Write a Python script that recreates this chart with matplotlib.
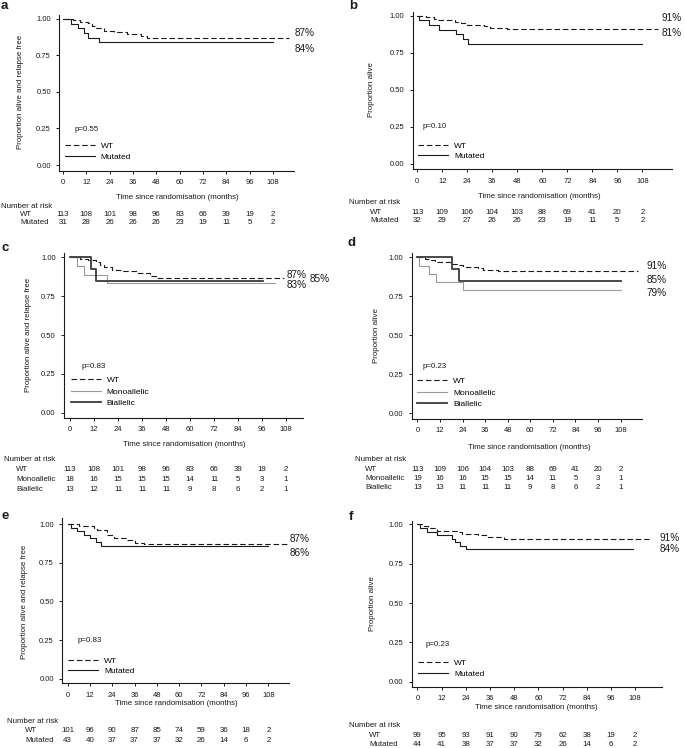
import matplotlib
matplotlib.use("Agg")
import matplotlib.pyplot as plt
from matplotlib.transforms import Affine2D, blended_transform_factory

plt.rcParams['font.family'] = ['Liberation Sans', 'DejaVu Sans']

W, H = 685, 748

months = [0, 12, 24, 36, 48, 60, 72, 84, 96, 108]
yticks = [0, 0.25, 0.5, 0.75, 1.0]
xlab = "Time since randomisation (months)"
ylab_rfs = "Proportion alive and relapse free"
ylab_os = "Proportion alive"

# --- KM curves (time in months, survival) ---
# a: RFS, WT vs mutated
a_wt_t = [0, 5, 9, 13, 15, 17, 21, 26, 33, 40, 43, 116]
a_wt_s = [1.0, 0.99, 0.98, 0.97, 0.95, 0.94, 0.92, 0.91, 0.90, 0.88, 0.87, 0.87]
a_mut_t = [0, 4, 7.5, 11, 13, 18.5, 108]
a_mut_s = [1.0, 0.968, 0.935, 0.903, 0.871, 0.839, 0.839]
# b: OS, WT vs mutated
b_wt_t = [0, 4, 8, 9.5, 18, 21, 24, 32, 35, 43, 115.5]
b_wt_s = [1.0, 0.99, 0.98, 0.97, 0.96, 0.95, 0.94, 0.93, 0.92, 0.91, 0.91]
b_mut_t = [0, 1, 5.5, 10.5, 18.5, 22, 24.5, 108]
b_mut_s = [1.0, 0.969, 0.938, 0.906, 0.875, 0.844, 0.8125, 0.8125]
# c: RFS, WT / monoallelic / biallelic
c_wt_t = [0, 5, 9, 13, 15, 17, 21, 26, 33, 40, 43, 107]
c_wt_s = [1.0, 0.99, 0.98, 0.97, 0.95, 0.94, 0.92, 0.91, 0.90, 0.88, 0.87, 0.87]
c_mono_t = [0, 3.3, 7.2, 18.5, 102.5]
c_mono_s = [1.0, 0.944, 0.889, 0.833, 0.833]
c_bi_t = [0, 10.3, 13, 96.7]
c_bi_s = [1.0, 0.923, 0.846, 0.846]
# d: OS, WT / monoallelic / biallelic
d_wt_t = [0, 4, 7, 9.5, 18, 21, 24, 32, 35, 43, 117]
d_wt_s = [1.0, 0.99, 0.98, 0.97, 0.96, 0.95, 0.94, 0.93, 0.92, 0.91, 0.91]
d_mono_t = [0, 0.7, 6, 10, 24.4, 108]
d_mono_s = [1.0, 0.947, 0.895, 0.842, 0.789, 0.789]
d_bi_t = [0, 18.5, 22, 108]
d_bi_s = [1.0, 0.923, 0.846, 0.846]
# e: RFS, WT vs mutated
e_wt_t = [0, 6, 14, 16, 21, 25, 32, 36, 41, 118]
e_wt_s = [1.0, 0.99, 0.97, 0.96, 0.93, 0.91, 0.895, 0.88, 0.87, 0.87]
e_mut_t = [0, 2, 5, 9, 12, 15, 18, 108]
e_mut_s = [1.0, 0.977, 0.953, 0.930, 0.907, 0.884, 0.860, 0.860]
# f: OS, WT vs mutated
f_wt_t = [0, 3, 5.5, 9.5, 20, 22, 30, 34, 43, 115]
f_wt_s = [1.0, 0.99, 0.98, 0.96, 0.95, 0.94, 0.93, 0.92, 0.91, 0.91]
f_mut_t = [0, 1.3, 5, 9.5, 17, 18.7, 21.2, 24, 107]
f_mut_s = [1.0, 0.977, 0.955, 0.932, 0.909, 0.886, 0.864, 0.841, 0.841]

# --- numbers at risk ---
a_risk_wt = [113, 108, 101, 98, 96, 83, 66, 39, 19, 2]
a_risk_mut = [31, 28, 26, 26, 26, 23, 19, 11, 5, 2]
b_risk_wt = [113, 109, 106, 104, 103, 88, 69, 41, 20, 2]
b_risk_mut = [32, 29, 27, 26, 26, 23, 19, 11, 5, 2]
c_risk_wt = [113, 108, 101, 98, 96, 83, 66, 39, 19, 2]
c_risk_mono = [18, 16, 15, 15, 15, 14, 11, 5, 3, 1]
c_risk_bi = [13, 12, 11, 11, 11, 9, 8, 6, 2, 1]
d_risk_wt = [113, 109, 106, 104, 103, 88, 69, 41, 20, 2]
d_risk_mono = [19, 16, 16, 15, 15, 14, 11, 5, 3, 1]
d_risk_bi = [13, 13, 11, 11, 11, 9, 8, 6, 2, 1]
e_risk_wt = [101, 96, 90, 87, 85, 74, 59, 36, 18, 2]
e_risk_mut = [43, 40, 37, 37, 37, 32, 26, 14, 6, 2]
f_risk_wt = [99, 95, 93, 91, 90, 79, 62, 38, 19, 2]
f_risk_mut = [44, 41, 38, 37, 37, 32, 26, 14, 6, 2]

pvals = ["p=0.55", "p=0.10", "p=0.83", "p=0.23", "p=0.83", "p=0.23"]

fig = plt.figure(figsize=(W / 100, H / 100), dpi=100)
# pixel coords, origin top-left
px = Affine2D().scale(1.0 / W, -1.0 / H).translate(0, 1) + fig.transFigure

BLACK = "#1a1a1a"
WT_STYLE = dict(color=BLACK, lw=0.8, ls=(0, (5, 2.5)))
MUT_STYLE = dict(color=BLACK, lw=0.8)
MONO_STYLE = dict(color="#9a9a9a", lw=0.8)
BI_STYLE = dict(color="#3a3a3a", lw=1.3)


def make_axes(rect, xlim, ylim):
    l, t, r, b = rect
    ax = fig.add_axes([l / W, 1 - b / H, (r - l) / W, (b - t) / H])
    ax.set_xlim(*xlim)
    ax.set_ylim(*ylim)
    for s in ["top", "right"]:
        ax.spines[s].set_visible(False)
    for s in ["left", "bottom"]:
        ax.spines[s].set_linewidth(0.8)
        ax.spines[s].set_color(BLACK)
    ax.set_xticks(months)
    ax.set_yticks(yticks)
    ax.set_yticklabels(["%.2f" % v for v in yticks])
    ax.tick_params(labelsize=5.5, length=2.5, width=0.7, pad=3.5, colors=BLACK)
    return ax


def risk_table(ax, title_xy, rows, label_x):
    fig.text(title_xy[0], title_xy[1], "Number at risk", transform=px,
             fontsize=5.7, ha="left", va="center", color=BLACK)
    tr = blended_transform_factory(ax.transData, px)
    for name, vals, y in rows:
        fig.text(label_x, y, name, transform=px, fontsize=5.7,
                 ha="left", va="center", color=BLACK)
        for m, v in zip(months, vals):
            ax.text(m, y, str(v), transform=tr, fontsize=5.7, ha="center",
                    va="center", color=BLACK, clip_on=False)


def decorate(ax, letter, letter_xy, ylab, ylab_x, xlab_xy, ptxt, p_xy,
             leg_xy, leg_sp, pcts):
    fig.text(letter_xy[0], letter_xy[1], letter, transform=px, fontsize=9.5,
             fontweight="bold", ha="left", va="center", color=BLACK)
    ytr = blended_transform_factory(px, ax.transData)
    ax.text(ylab_x, 0.5, ylab, transform=ytr, rotation=90, ha="center",
            va="center", fontsize=5.7, color=BLACK, clip_on=False)
    fig.text(xlab_xy[0], xlab_xy[1], xlab, transform=px, fontsize=5.7,
             ha="center", va="center", color=BLACK)
    fig.text(p_xy[0], p_xy[1], ptxt, transform=px, fontsize=5.7,
             ha="left", va="center", color=BLACK)
    ax.legend(loc="upper left", bbox_to_anchor=leg_xy, bbox_transform=px,
              frameon=False, fontsize=6, borderpad=0, borderaxespad=0,
              handlelength=3.6, handletextpad=0.7, labelspacing=leg_sp)
    for txt, x, y in pcts:
        fig.text(x, y, txt, transform=px, fontsize=7.2, ha="left",
                 va="center", color=BLACK)


# ---- a ----
ax = make_axes((59.3, 15, 294, 171), (-1.9, 118.8), (-0.041, 1.027))
ax.step(a_wt_t, a_wt_s, where="post", label="WT", **WT_STYLE)
ax.step(a_mut_t, a_mut_s, where="post", label="Mutated", **MUT_STYLE)
decorate(ax, "a", (1, 6), ylab_rfs, 20.7, (177, 197.7), pvals[0], (75, 129.3),
         (65, 142.0), 0.45, [("87%", 295, 32.7), ("84%", 295, 49.3)])
risk_table(ax, (1, 206.7), [("WT", a_risk_wt, 215), ("Mutated", a_risk_mut, 222.7)], 20)

# ---- b ----
ax = make_axes((412.7, 11.7, 672, 169.3), (-2.2, 122.2), (-0.036, 1.027))
ax.step(b_wt_t, b_wt_s, where="post", label="WT", **WT_STYLE)
ax.step(b_mut_t, b_mut_s, where="post", label="Mutated", **MUT_STYLE)
decorate(ax, "b", (349, 6), ylab_os, 371.7, (539, 196.7), pvals[1], (422.7, 126.7),
         (418.3, 142.0), 0.25, [("91%", 662, 18.3), ("81%", 662, 33.3)])
risk_table(ax, (349.3, 202), [("WT", b_risk_wt, 212.7), ("Mutated", b_risk_mut, 220.7)], 370)

# ---- c ----
ax = make_axes((64, 253, 303, 418), (-3.0, 116.5), (-0.034, 1.028))
ax.step(c_wt_t, c_wt_s, where="post", label="WT", **WT_STYLE)
ax.step(c_mono_t, c_mono_s, where="post", label="Monoallelic", **MONO_STYLE)
ax.step(c_bi_t, c_bi_s, where="post", label="Biallelic", **BI_STYLE)
decorate(ax, "c", (1, 248), ylab_rfs, 29, (184, 444.3), pvals[2], (81.7, 366.7),
         (70.7, 376.2), 0.45,
         [("87%", 287, 275), ("85%", 309.5, 279), ("83%", 287, 285.5)])
risk_table(ax, (4, 460), [("WT", c_risk_wt, 470), ("Monoallelic", c_risk_mono, 479.3),
                          ("Biallelic", c_risk_bi, 489.3)], 16)

# ---- d ----
ax = make_axes((411.7, 253, 641.7, 419), (-3.0, 119.2), (-0.037, 1.028))
ax.step(d_wt_t, d_wt_s, where="post", label="WT", **WT_STYLE)
ax.step(d_mono_t, d_mono_s, where="post", label="Monoallelic", **MONO_STYLE)
ax.step(d_bi_t, d_bi_s, where="post", label="Biallelic", **BI_STYLE)
decorate(ax, "d", (348, 243), ylab_os, 376.7, (529.3, 447.7), pvals[3], (422.7, 366.7),
         (417.3, 377.2), 0.45,
         [("91%", 646.7, 266), ("85%", 646.7, 280), ("79%", 646.7, 292.7)])
risk_table(ax, (355, 460), [("WT", d_risk_wt, 469.3), ("Monoallelic", d_risk_mono, 478.3),
                            ("Biallelic", d_risk_bi, 487.3)], 365)

# ---- e ----
ax = make_axes((62.3, 518.3, 289, 683.3), (-2.9, 119.1), (-0.028, 1.037))
ax.step(e_wt_t, e_wt_s, where="post", label="WT", **WT_STYLE)
ax.step(e_mut_t, e_mut_s, where="post", label="Mutated", **MUT_STYLE)
decorate(ax, "e", (1, 516), ylab_rfs, 25, (176, 703.3), pvals[4], (77.3, 640.7),
         (68.3, 657.2), 0.25, [("87%", 289.3, 539.3), ("86%", 289.3, 552.7)])
risk_table(ax, (6.7, 721.7), [("WT", e_risk_wt, 731), ("Mutated", e_risk_mut, 740.7)], 25)

# ---- f ----
ax = make_axes((411.7, 520.7, 662, 686.7), (-2.8, 121.3), (-0.032, 1.024))
ax.step(f_wt_t, f_wt_s, where="post", label="WT", **WT_STYLE)
ax.step(f_mut_t, f_mut_s, where="post", label="Mutated", **MUT_STYLE)
decorate(ax, "f", (349, 517), ylab_os, 373, (536.7, 707.7), pvals[5], (426, 644.3),
         (418.3, 658.8), 0.37, [("91%", 660, 538.3), ("84%", 660, 549.3)])
risk_table(ax, (349.3, 726), [("WT", f_risk_wt, 736), ("Mutated", f_risk_mut, 745)], 369.3)

fig.savefig("out.png", dpi=100)
